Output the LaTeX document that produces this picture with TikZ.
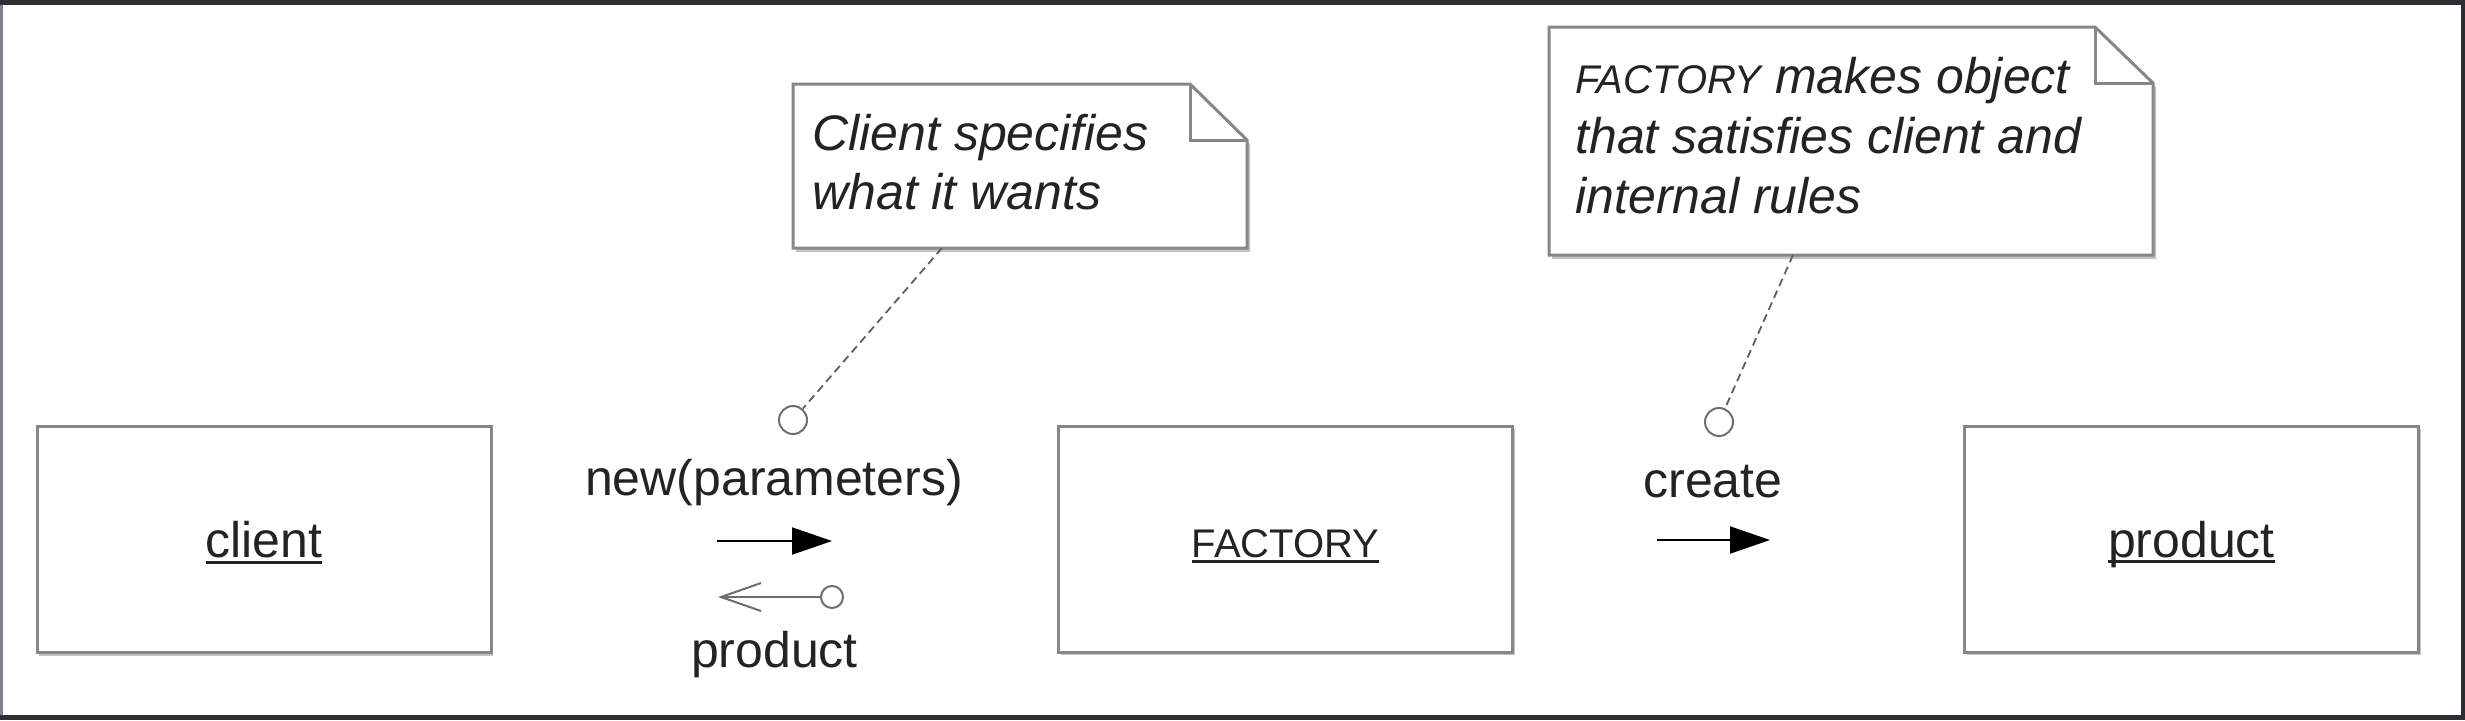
\documentclass[tikz,border=0pt]{standalone}
\usepackage{fontspec}
\setmainfont{Liberation Sans}
\usetikzlibrary{arrows.meta,shadows}
\definecolor{boxgray}{RGB}{135,135,135}
\definecolor{shadowgray}{RGB}{195,195,195}
\definecolor{txt}{RGB}{35,35,35}
\definecolor{framedark}{RGB}{43,46,51}
\definecolor{frameleft}{RGB}{125,130,140}
\definecolor{portgray}{RGB}{110,110,110}
\definecolor{dashgray}{RGB}{95,95,95}
\newcommand\ulin[1]{\setbox0\hbox{#1}\rlap{\rule[-3pt]{\wd0}{1.3pt}}\box0}
\tikzset{
  objbox/.style={draw=boxgray, line width=1.5pt, fill=white, rectangle,
    minimum width=227pt, minimum height=113pt, inner sep=0pt,
    text height=18pt, text depth=0pt, text=txt,
    font=\fontsize{25}{30}\selectfont,
    drop shadow={shadow xshift=1pt, shadow yshift=-1.6pt, opacity=1, fill=shadowgray}},
  noteline/.style={draw=boxgray, line width=1.5pt, line join=miter},
  noteshadow/.style={fill=shadowgray},
  notetext/.style={inner sep=0pt, text=txt, font=\fontsize{25}{29.5}\selectfont\itshape},
  lbl/.style={inner sep=0pt, text=txt, font=\fontsize{25}{30}\selectfont},
  port/.style={circle, draw=portgray, line width=1pt, fill=white, minimum size=14pt, inner sep=0pt},
  dashline/.style={draw=dashgray, line width=0.9pt, dash pattern=on 4pt off 2.5pt},
  callarrow/.style={draw=black, line width=1pt, -{Triangle[length=20pt,width=13.5pt]}},
  retarrow/.style={draw=portgray, line width=1pt, -{Straight Barb[length=20pt,width=14pt,line width=1pt]}},
}
\begin{document}
\begin{tikzpicture}[x=0.5pt,y=-0.5pt]
% frame
\fill[framedark] (0,0) rectangle (2465,720);
\fill[white] (3,5) rectangle (2461,715);
\fill[frameleft] (0,5) rectangle (3,715);
\useasboundingbox (0,0) rectangle (2465,720);

% object boxes
\node[objbox] (client) at (264,539.5) {\ulin{client}};
\node[objbox] (factory) at (1285.5,539) {{\fontsize{20}{24}\selectfont\ulin{FACTORY}}};
\node[objbox] (product) at (2191.5,539) {\ulin{product}};

% note 1
\fill[noteshadow] (796,88) -- (1193,88) -- (1250,144) -- (1250,252) -- (796,252) -- cycle;
\filldraw[noteline, fill=white] (793,84) -- (1190,84) -- (1247,140) -- (1247,248) -- (793,248) -- cycle;
\draw[noteline] (1190,84) -- (1190,140) -- (1247,140);
\node[notetext, anchor=base west] (note1) at (812,150)
  {\vtop{\hbox{Client specifies}\hbox{what it wants}}};
\coordinate (n1a) at (942,248);

% note 2
\fill[noteshadow] (1552,31) -- (2098,31) -- (2156,87) -- (2156,259) -- (1552,259) -- cycle;
\filldraw[noteline, fill=white] (1549,27) -- (2095,27) -- (2153,83) -- (2153,255) -- (1549,255) -- cycle;
\draw[noteline] (2095,27) -- (2095,83) -- (2153,83);
\node[notetext, anchor=base west] (note2) at (1575,93)
  {\vtop{\baselineskip=30pt\hbox{{\fontsize{20}{30}\selectfont FACTORY} makes object}\hbox{that satisfies client and}\hbox{internal rules}}};
\coordinate (n2a) at (1793,255);

% ports and dashed attachments
\node[port] (p1) at (793,420) {};
\node[port] (p2) at (1719,422) {};
\draw[dashline] (n1a) -- (p1);
\draw[dashline] (n2a) -- (p2);

% message labels
\node[lbl, anchor=base] (l1) at (774,495) {new(parameters)};
\node[lbl, anchor=base] (l2) at (774.5,667) {product};
\node[lbl, anchor=base] (l3) at (1713,497) {create};

% message arrows
\coordinate (a1s) at (717,541);
\coordinate (a1e) at (832,541);
\draw[callarrow] (a1s) -- (a1e);

\node[port, minimum size=11pt] (r1) at (832,597) {};
\coordinate (a2e) at (718,597);
\draw[retarrow] (r1) -- (a2e);

\coordinate (a3s) at (1657,540);
\coordinate (a3e) at (1770,540);
\draw[callarrow] (a3s) -- (a3e);
\end{tikzpicture}
\end{document}
